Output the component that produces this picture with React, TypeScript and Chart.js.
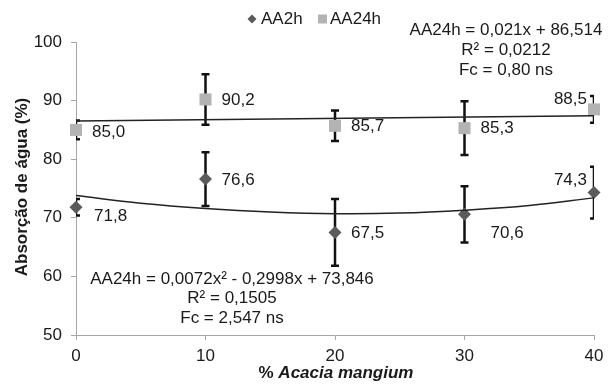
import React, { useEffect, useRef } from 'react';
import { Chart, registerables } from 'chart.js';

Chart.register(...registerables);

// ---- data ----
const xValues = [0, 10, 20, 30, 40];
const aa2h = [71.8, 76.6, 67.5, 70.6, 74.3];
const aa2hErr = [1.4, 4.6, 5.7, 4.8, 4.4];
const aa24h = [85.0, 90.2, 85.7, 85.3, 88.5];
const aa24hErr = [1.6, 4.3, 2.6, 4.6, 2.3];
const aa2hLabels = ['71,8', '76,6', '67,5', '70,6', '74,3'];
const aa24hLabels = ['85,0', '90,2', '85,7', '85,3', '88,5'];
const trend2hX = [0, 5, 10, 15, 20, 25, 30, 35, 40];
const trend2hY = [73.8, 72.5, 71.6, 71.0, 70.7, 70.8, 71.3, 72.1, 73.4];
const trend24hX = [0, 40];
const trend24hY = [86.5, 87.4];
const eq24h = ['AA24h = 0,021x + 86,514', 'R² = 0,0212', 'Fc = 0,80 ns'];
const eq2h = ['AA24h = 0,0072x² - 0,2998x + 73,846', 'R² = 0,1505', 'Fc = 2,547 ns'];
const seriesNames = ['AA2h', 'AA24h'];

// label placement [dx, dy, align]
const place2h: [number, number, CanvasTextAlign][] = [
  [18, 9, 'left'], [16, 1, 'left'], [16, 1, 'left'], [26, 19, 'left'], [-7, -12, 'right'],
];
const place24h: [number, number, CanvasTextAlign][] = [
  [16, 2, 'left'], [16, 1, 'left'], [16, 1, 'left'], [16, 0, 'left'], [-7, -10, 'right'],
];

const FONT = '"Liberation Sans", Arial, sans-serif';
const TEXT = '#1a1a1a';
const AXIS = '#a6a6a6';
const C2H = '#5b5b5b';
const C24H = '#b3b3b3';

const errorBars = {
  id: 'errorBars',
  beforeDatasetsDraw(chart: any) {
    const { ctx, chartArea, scales } = chart;
    const xs = scales.x, ys = scales.y;
    ctx.save();
    ctx.beginPath();
    ctx.rect(chartArea.left, chartArea.top - 5, chartArea.right - chartArea.left, chartArea.bottom - chartArea.top + 10);
    ctx.clip();
    ctx.strokeStyle = '#111';
    ctx.lineWidth = 2.5;
    const draw = (vals: number[], errs: number[]) => {
      vals.forEach((v, i) => {
        const px = xs.getPixelForValue(xValues[i]);
        const t = ys.getPixelForValue(v + errs[i]);
        const b = ys.getPixelForValue(v - errs[i]);
        ctx.beginPath();
        ctx.moveTo(px, t); ctx.lineTo(px, b);
        ctx.moveTo(px - 4, t); ctx.lineTo(px + 4, t);
        ctx.moveTo(px - 4, b); ctx.lineTo(px + 4, b);
        ctx.stroke();
      });
    };
    draw(aa2h, aa2hErr);
    draw(aa24h, aa24hErr);
    ctx.restore();
  },
};

const texts = {
  id: 'texts',
  afterDraw(chart: any) {
    const { ctx, scales } = chart;
    const xs = scales.x, ys = scales.y;
    ctx.save();
    ctx.fillStyle = TEXT;
    ctx.font = `17px ${FONT}`;
    ctx.textBaseline = 'middle';
    // data labels
    const lab = (vals: number[], labels: string[], pl: [number, number, CanvasTextAlign][]) => {
      vals.forEach((v, i) => {
        const px = xs.getPixelForValue(xValues[i]);
        const py = ys.getPixelForValue(v);
        ctx.textAlign = pl[i][2];
        ctx.fillText(labels[i], px + pl[i][0], py + pl[i][1]);
      });
    };
    lab(aa2h, aa2hLabels, place2h);
    lab(aa24h, aa24hLabels, place24h);
    // equations
    ctx.textAlign = 'center';
    eq24h.forEach((s, i) => ctx.fillText(s, 506, 30 + i * 20));
    eq2h.forEach((s, i) => ctx.fillText(s, 232, 279 + i * 19.5));
    // legend
    ctx.textAlign = 'left';
    ctx.fillStyle = C2H;
    ctx.beginPath();
    ctx.moveTo(252, 14.5); ctx.lineTo(256.5, 19); ctx.lineTo(252, 23.5); ctx.lineTo(247.5, 19); ctx.closePath();
    ctx.fill();
    ctx.fillStyle = C24H;
    ctx.fillRect(318, 14.5, 9, 9);
    ctx.fillStyle = TEXT;
    ctx.fillText(seriesNames[0], 261, 19);
    ctx.fillText(seriesNames[1], 330, 19);
    // y title
    ctx.save();
    ctx.translate(22, 187);
    ctx.rotate(-Math.PI / 2);
    ctx.textAlign = 'center';
    ctx.font = `bold 17px ${FONT}`;
    ctx.fillText('Absorção de água (%)', 0, 0);
    ctx.restore();
    // x title
    ctx.font = `bold 17px ${FONT}`;
    const p1 = '% ';
    ctx.textAlign = 'left';
    const w1 = ctx.measureText(p1).width;
    ctx.font = `italic bold 17px ${FONT}`;
    const p2 = 'Acacia mangium';
    const w2 = ctx.measureText(p2).width;
    const start = 336 - (w1 + w2) / 2;
    ctx.font = `bold 17px ${FONT}`;
    ctx.fillText(p1, start, 373);
    ctx.font = `italic bold 17px ${FONT}`;
    ctx.fillText(p2, start + w1, 373);
    ctx.restore();
  },
};

export default function App() {
  const ref = useRef<HTMLCanvasElement>(null);
  useEffect(() => {
    document.body.style.margin = '0';
    const chart = new Chart(ref.current!, {
      type: 'scatter',
      data: {
        datasets: [
          {
            label: 'trend2h',
            data: trend2hX.map((x, i) => ({ x, y: trend2hY[i] })),
            showLine: true,
            borderColor: '#222',
            borderWidth: 1.5,
            pointRadius: 0,
            tension: 0.4,
            fill: false,
          } as any,
          {
            label: 'trend24h',
            data: trend24hX.map((x, i) => ({ x, y: trend24hY[i] })),
            showLine: true,
            borderColor: '#222',
            borderWidth: 1.5,
            pointRadius: 0,
            fill: false,
          },
          {
            label: seriesNames[0],
            data: xValues.map((x, i) => ({ x, y: aa2h[i] })),
            pointStyle: 'rectRot',
            pointRadius: 6.5,
            backgroundColor: C2H,
            borderColor: C2H,
            borderWidth: 0,
          },
          {
            label: seriesNames[1],
            data: xValues.map((x, i) => ({ x, y: aa24h[i] })),
            pointStyle: 'rect',
            pointRadius: 8.5,
            backgroundColor: C24H,
            borderColor: C24H,
            borderWidth: 0,
          },
        ],
      },
      options: {
        animation: false,
        responsive: false,
        devicePixelRatio: 1,
        clip: false as any,
        layout: { padding: { top: 42, right: 19, left: 0, bottom: 0 } },
        plugins: { legend: { display: false }, tooltip: { enabled: false } },
        scales: {
          x: {
            type: 'linear',
            min: 0,
            max: 40,
            afterFit: (s: any) => { s.height = 50; },
            ticks: { stepSize: 10, color: TEXT, font: { family: FONT, size: 17 }, padding: 6 },
            grid: { drawOnChartArea: false, drawTicks: true, tickLength: 5, color: AXIS },
            border: { display: true, color: AXIS, width: 1 },
          },
          y: {
            type: 'linear',
            min: 50,
            max: 100,
            afterFit: (s: any) => { s.width = 76; },
            ticks: { stepSize: 10, color: TEXT, font: { family: FONT, size: 17 }, padding: 9 },
            grid: { drawOnChartArea: false, drawTicks: true, tickLength: 5, color: AXIS },
            border: { display: true, color: AXIS, width: 1 },
          },
        },
      },
      plugins: [errorBars, texts],
    });
    return () => chart.destroy();
  }, []);
  return <canvas ref={ref} width={613} height={385} />;
}
